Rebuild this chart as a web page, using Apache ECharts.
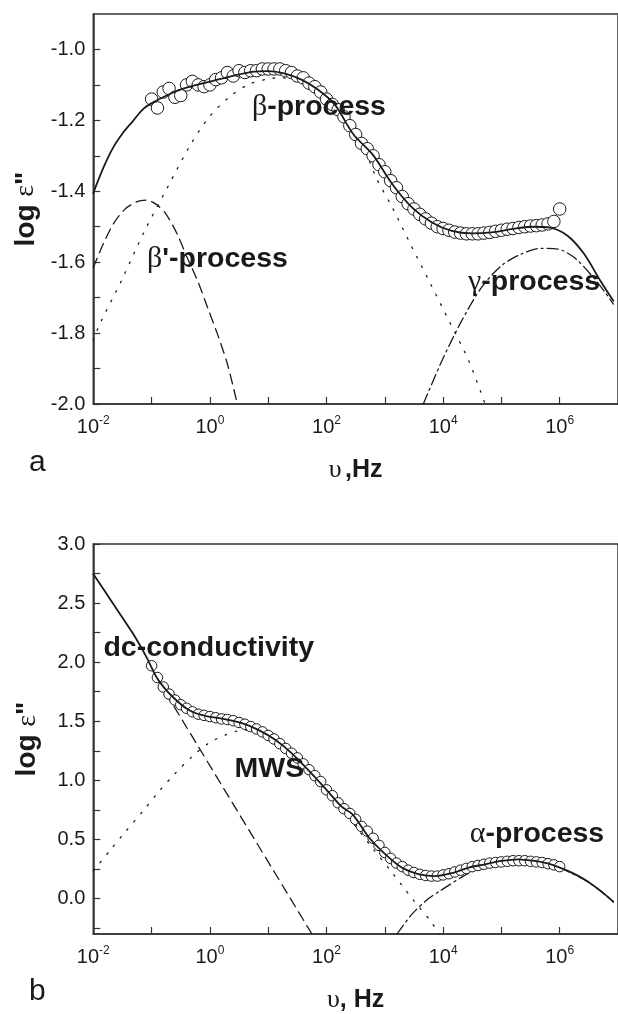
<!DOCTYPE html>
<html>
<head>
<meta charset="utf-8">
<script src="https://cdn.jsdelivr.net/npm/echarts@6/dist/echarts.min.js"></script>
<style>
html,body{margin:0;padding:0;background:#fff;}
#c{width:618px;height:1014px;}
</style>
</head>
<body>
<div id="c"></div>
<script>
// ---------- Panel a : x = log10(frequency / Hz) ----------
const aSolidF = [-2.0,-1.83,-1.66,-1.49,-1.32,-1.15,-0.98,-0.64,-0.30,0.04,0.38,0.72,1.00,1.29,1.57,1.85,2.14,2.46,2.79,3.13,3.47,3.81,4.15,4.49,4.83,5.17,5.51,5.85,6.14,6.42,6.70,6.92];
const aSolidV = [-1.405,-1.335,-1.277,-1.235,-1.202,-1.169,-1.150,-1.122,-1.103,-1.089,-1.075,-1.063,-1.061,-1.068,-1.085,-1.113,-1.155,-1.239,-1.296,-1.380,-1.446,-1.488,-1.512,-1.519,-1.516,-1.507,-1.500,-1.503,-1.526,-1.577,-1.653,-1.709];

const aBetaF = [-2.0,-1.89,-1.52,-1.12,-0.73,-0.33,-0.02,0.32,0.66,1.00,1.20,1.50,1.90,2.30,2.60,2.85,3.13,3.47,3.76,4.10,4.44,4.72];
const aBetaV = [-1.82,-1.775,-1.653,-1.512,-1.390,-1.268,-1.192,-1.136,-1.099,-1.083,-1.080,-1.087,-1.115,-1.180,-1.260,-1.361,-1.446,-1.559,-1.653,-1.765,-1.878,-2.0];

const aBeta2F = [-2.0,-1.83,-1.66,-1.46,-1.26,-1.09,-0.92,-0.75,-0.56,-0.39,-0.21,-0.04,0.13,0.30,0.47];
const aBeta2V = [-1.615,-1.549,-1.493,-1.451,-1.430,-1.425,-1.437,-1.465,-1.521,-1.587,-1.653,-1.728,-1.803,-1.887,-2.0];

const aGammaF = [3.66,3.98,4.32,4.66,5.00,5.34,5.68,5.97,6.25,6.53,6.76,6.92];
const aGammaV = [-2.0,-1.878,-1.765,-1.671,-1.610,-1.577,-1.561,-1.563,-1.587,-1.634,-1.681,-1.718];

const aDataF = [-1.0,-0.9,-0.8,-0.7,-0.6,-0.5,-0.4,-0.3,-0.2,-0.1,0.0,0.1,0.2,0.3,0.4,0.5,0.6,0.7,0.8,0.9,1.0,1.1,1.2,1.3,1.4,1.5,1.6,1.7,1.8,1.9,2.0,2.1,2.2,2.3,2.4,2.5,2.6,2.7,2.8,2.9,3.0,3.1,3.2,3.3,3.4,3.5,3.6,3.7,3.8,3.9,4.0,4.1,4.2,4.3,4.4,4.5,4.6,4.7,4.8,4.9,5.0,5.1,5.2,5.3,5.4,5.5,5.6,5.7,5.8,5.9,6.0];
const aDataV = [-1.14,-1.165,-1.12,-1.11,-1.135,-1.13,-1.10,-1.09,-1.10,-1.105,-1.10,-1.085,-1.08,-1.065,-1.075,-1.06,-1.065,-1.06,-1.06,-1.055,-1.055,-1.055,-1.055,-1.06,-1.065,-1.075,-1.08,-1.095,-1.105,-1.12,-1.14,-1.155,-1.17,-1.19,-1.215,-1.24,-1.265,-1.28,-1.30,-1.325,-1.345,-1.37,-1.39,-1.415,-1.435,-1.45,-1.465,-1.478,-1.49,-1.50,-1.505,-1.51,-1.515,-1.518,-1.52,-1.52,-1.52,-1.518,-1.516,-1.513,-1.51,-1.507,-1.505,-1.502,-1.50,-1.498,-1.497,-1.495,-1.492,-1.485,-1.45];

const aNoteText = ['β-process', "β'-process", 'γ-process'];
const aNoteF = [1.87, 0.13, 5.56];
const aNoteV = [-1.163, -1.592, -1.656];

// ---------- Panel b ----------
const bSolidF = [-2.0,-1.66,-1.32,-1.09,-0.92,-0.75,-0.58,-0.41,-0.24,-0.02,0.27,0.55,0.83,1.12,1.40,1.68,1.97,2.25,2.45,2.74,3.02,3.30,3.59,3.87,4.15,4.44,4.72,5.00,5.29,5.57,5.85,6.14,6.42,6.70,6.92];
const bSolidV = [2.747,2.495,2.242,2.045,1.877,1.764,1.680,1.610,1.568,1.540,1.517,1.484,1.427,1.343,1.231,1.090,0.936,0.782,0.71,0.51,0.37,0.26,0.205,0.19,0.215,0.262,0.290,0.318,0.332,0.318,0.290,0.234,0.163,0.065,-0.027];

const bDcF = [-0.9, 1.75];
const bDcV = [1.856, -0.30];

const bMwsF = [-2.0,-1.72,-1.44,-1.15,-0.87,-0.59,-0.30,-0.02,0.27,0.49,0.70,1.00,1.30,1.60,2.00,2.50,2.80,3.08,3.30,3.50,3.78,3.93];
const bMwsV = [0.234,0.403,0.571,0.739,0.908,1.062,1.203,1.315,1.385,1.419,1.425,1.37,1.28,1.15,0.91,0.61,0.42,0.248,0.108,-0.019,-0.187,-0.30];

const bAlphaF = [3.21,3.47,3.75,3.95,4.35,4.70,5.00,5.30,5.60,5.90,6.14,6.42,6.70,6.92];
const bAlphaV = [-0.30,-0.13,0.0,0.065,0.19,0.27,0.31,0.325,0.315,0.285,0.23,0.16,0.065,-0.027];

const bDataF = aDataF;
const bDataV = [1.97,1.87,1.79,1.73,1.68,1.64,1.61,1.58,1.56,1.55,1.54,1.53,1.52,1.515,1.505,1.49,1.475,1.455,1.435,1.41,1.38,1.35,1.31,1.27,1.23,1.19,1.14,1.09,1.04,0.99,0.92,0.87,0.81,0.76,0.72,0.67,0.61,0.57,0.51,0.45,0.39,0.34,0.30,0.27,0.24,0.22,0.205,0.195,0.19,0.19,0.20,0.21,0.225,0.24,0.255,0.27,0.28,0.29,0.30,0.305,0.31,0.315,0.32,0.32,0.32,0.315,0.31,0.305,0.295,0.285,0.27];

const bNoteText = ['dc-conductivity', 'MWS', 'α-process'];
const bNoteF = [-0.02, 1.02, 5.61];
const bNoteV = [2.115, 1.096, 0.543];

// ---------- Axis ticks ----------
const xTickVals = [-1,0,1,2,3,4,5,6];
const xLabelVals = [-2,0,2,4,6];
const aYTicks = [-2.0,-1.9,-1.8,-1.7,-1.6,-1.5,-1.4,-1.3,-1.2,-1.1,-1.0];
const aYLabels = [-2.0,-1.8,-1.6,-1.4,-1.2,-1.0];
const bYTicks = [-0.25,0,0.25,0.5,0.75,1.0,1.25,1.5,1.75,2.0,2.25,2.5,2.75,3.0];
const bYLabels = [0,0.5,1.0,1.5,2.0,2.5,3.0];

// ---------- helpers ----------
const zip = (xs, ys) => xs.map((x, i) => [x, ys[i]]);
const INK = '#1a1a1a';
const SANS = 'Liberation Sans, Arial, sans-serif';
const SERIF = 'Liberation Serif, Times New Roman, serif';

const greekRich = {
  g: {fontFamily: SERIF, fontSize: 30, fontWeight: 'normal', color: INK},
  t: {fontFamily: SANS, fontSize: 28.5, fontWeight: 'bold', color: INK}
};
function noteFmt(p) {
  const s = p.name;
  const c = s.charCodeAt(0);
  if (c >= 0x370 && c <= 0x3ff) return '{g|' + s[0] + '}{t|' + s.slice(1) + '}';
  return '{t|' + s + '}';
}

function xAxis(gi, name) {
  return {
    type: 'value', gridIndex: gi, min: -2, max: 7,
    axisLine: {onZero: false, lineStyle: {color: '#333', width: 1.5}},
    axisTick: {inside: true, length: 7, customValues: xTickVals, lineStyle: {color: '#333', width: 1.2}},
    axisLabel: {
      customValues: xLabelVals, margin: 11,
      formatter: v => '{b|10}{s|' + v + '}',
      rich: {
        b: {fontFamily: SANS, fontSize: 20, color: INK, lineHeight: 24},
        s: {fontFamily: SANS, fontSize: 12, color: INK, lineHeight: 14, verticalAlign: 'top'}
      }
    },
    splitLine: {show: false},
    name: name, nameLocation: 'middle', nameGap: 53,
    nameTextStyle: {
      rich: {
        g: {fontFamily: SERIF, fontSize: 26, color: INK},
        t: {fontFamily: SANS, fontSize: 25, fontWeight: 'bold', color: INK}
      }
    }
  };
}
function yAxis(gi, min, max, ticks, labels) {
  return {
    type: 'value', gridIndex: gi, min: min, max: max,
    axisLine: {onZero: false, lineStyle: {color: '#333', width: 1.5}},
    axisTick: {inside: true, length: 7, customValues: ticks, lineStyle: {color: '#333', width: 1.2}},
    axisLabel: {customValues: labels, margin: 8, fontFamily: SANS, fontSize: 20, color: INK,
      formatter: v => v.toFixed(1)},
    splitLine: {show: false},
    name: '{t|log }{g|ε}{t|"}', nameLocation: 'middle', nameGap: 52, nameRotate: 90,
    nameTextStyle: {
      rich: {
        g: {fontFamily: SERIF, fontSize: 28, color: INK},
        t: {fontFamily: SANS, fontSize: 28, fontWeight: 'bold', color: INK}
      }
    }
  };
}
function lineS(xi, data, type, z, width) {
  return {type: 'line', xAxisIndex: xi, yAxisIndex: xi, data: data, smooth: 0.3, symbol: 'none',
    z: z, silent: true,
    lineStyle: {color: INK, width: width || 1.3, type: type, cap: 'round'}};
}
function circS(xi, data, size) {
  return {type: 'scatter', xAxisIndex: xi, yAxisIndex: xi, data: data, symbol: 'circle',
    symbolSize: size, z: 4, silent: true,
    itemStyle: {color: '#fff', borderColor: INK, borderWidth: 1, opacity: 1}};
}
function noteS(xi, texts, fs, vs) {
  return {type: 'scatter', xAxisIndex: xi, yAxisIndex: xi, symbolSize: 0, z: 10, silent: true,
    itemStyle: {opacity: 1},
    data: texts.map((t, i) => ({name: t, value: [fs[i], vs[i]]})),
    label: {show: true, position: 'inside', formatter: noteFmt, rich: greekRich, opacity: 1}};
}

const chart = echarts.init(document.getElementById('c'), null, {renderer: 'canvas'});
chart.setOption({
  backgroundColor: '#fff',
  animation: false,
  grid: [
    {left: 93.3, top: 14, width: 529.2, height: 390, show: true, borderColor: '#333', borderWidth: 1.5},
    {left: 93.3, top: 544, width: 529.2, height: 391.5, show: true, borderColor: '#333', borderWidth: 1.5}
  ],
  xAxis: [xAxis(0, '{g|υ} {t|,Hz}'), xAxis(1, '{g|υ}{t|, Hz}')],
  yAxis: [yAxis(0, -2.0, -0.9, aYTicks, aYLabels), yAxis(1, -0.3, 3.0, bYTicks, bYLabels)],
  graphic: [
    {type: 'text', left: 29, top: 448, style: {text: 'a', font: '30px ' + SANS, fill: INK}},
    {type: 'text', left: 29, top: 977, style: {text: 'b', font: '30px ' + SANS, fill: INK}}
  ],
  series: [
    lineS(0, zip(aBetaF, aBetaV), [1.6, 9], 2),
    lineS(0, zip(aBeta2F, aBeta2V), [10, 6], 2),
    lineS(0, zip(aGammaF, aGammaV), [11, 4, 2, 4], 2),
    circS(0, zip(aDataF, aDataV), 12.5),
    lineS(0, zip(aSolidF, aSolidV), 'solid', 6, 1.8),
    noteS(0, aNoteText, aNoteF, aNoteV),

    lineS(1, zip(bMwsF, bMwsV), [1.6, 9], 2),
    lineS(1, zip(bDcF, bDcV), [10, 6], 2),
    lineS(1, zip(bAlphaF, bAlphaV), [11, 4, 2, 4], 2),
    circS(1, zip(bDataF, bDataV), 10.5),
    lineS(1, zip(bSolidF, bSolidV), 'solid', 6, 1.8),
    noteS(1, bNoteText, bNoteF, bNoteV)
  ]
});
</script>
</body>
</html>
